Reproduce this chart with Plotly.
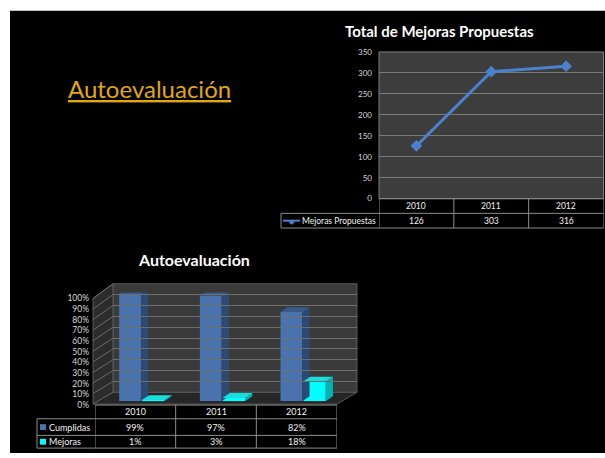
import plotly.graph_objects as go

W, H = 605, 458
FONT = "Lato"

# data
years = ["2010", "2011", "2012"]
mejoras_propuestas = [126, 303, 316]
cumplidas = [0.99, 0.97, 0.82]
mejoras = [0.01, 0.03, 0.18]
cumplidas_lbl = ["99%", "97%", "82%"]
mejoras_lbl = ["1%", "3%", "18%"]

BLUE_LINE = "#4a80cc"
BAR_BLUE = ["#4a72ac", "#2e4a74", "#3a5a8c"]   # front, side, top
BAR_CYAN = ["#00ffff", "#00b4b4", "#19dede"]
GRID = "#7a7a7a"
TABLE_LINE = "#8c8c8c"
TXT = "#f2f2f2"


def fx(p):
    return p / W


def fy(p):
    return 1 - p / H


xs = list(range(len(years)))
fig = go.Figure()

# ---- line chart
fig.add_trace(go.Scatter(
    x=xs, y=mejoras_propuestas, mode="lines+markers",
    line=dict(color=BLUE_LINE, width=3),
    marker=dict(symbol="diamond", size=9, color=BLUE_LINE),
    xaxis="x", yaxis="y", hoverinfo="skip", showlegend=False,
))

# ---- 3d-ish bar chart
DX, DY = 0.09, 0.045


def bar_series(vals, offset, width, colors):
    fig.add_trace(go.Bar(
        x=xs, y=vals, offset=offset, width=width,
        marker=dict(color=colors[0], line=dict(width=0)),
        xaxis="x2", yaxis="y2", hoverinfo="skip", showlegend=False,
    ))
    for i, v in zip(xs, vals):
        l, r = i + offset, i + offset + width
        fig.add_trace(go.Scatter(
            x=[r, r + DX, r + DX, r, r], y=[0, DY, v + DY, v, 0],
            fill="toself", fillcolor=colors[1], mode="lines",
            line=dict(width=0, color=colors[1]),
            xaxis="x2", yaxis="y2", hoverinfo="skip", showlegend=False,
        ))
        fig.add_trace(go.Scatter(
            x=[l, l + DX, r + DX, r, l], y=[v, v + DY, v + DY, v, v],
            fill="toself", fillcolor=colors[2], mode="lines",
            line=dict(width=0, color=colors[2]),
            xaxis="x2", yaxis="y2", hoverinfo="skip", showlegend=False,
        ))


bar_series(cumplidas, -0.2, 0.27, BAR_BLUE)
bar_series(mejoras, 0.08, 0.28, BAR_CYAN)

# placeholders so the wall / tick-label axes get drawn
fig.add_trace(go.Scatter(x=[0], y=[0], mode="markers", marker=dict(opacity=0),
                         xaxis="x3", yaxis="y3", hoverinfo="skip", showlegend=False))
fig.add_trace(go.Scatter(x=[0], y=[0], mode="markers", marker=dict(opacity=0),
                         xaxis="x2", yaxis="y4", hoverinfo="skip", showlegend=False))

shapes = []
annotations = []

# slide background
shapes.append(dict(type="rect", xref="paper", yref="paper", x0=fx(10), x1=1, y0=0, y1=fy(6),
                   fillcolor="black", line=dict(width=0), layer="below"))
# line chart plot area
shapes.append(dict(type="rect", xref="x domain", yref="y domain", x0=0, x1=1, y0=0, y1=1,
                   fillcolor="#3d3d3d", line=dict(color="#7f7f7f", width=1), layer="below"))
# back wall
shapes.append(dict(type="rect", xref="x3 domain", yref="y3 domain", x0=0, x1=1, y0=0, y1=1,
                   fillcolor="#3a3a3a", line=dict(color="#5a5a5a", width=1), layer="below"))


def ppath(pts):
    return "M " + " L ".join(f"{fx(a):.5f},{fy(b):.5f}" for a, b in pts) + " Z"


# left wall
shapes.append(dict(type="path", xref="paper", yref="paper",
                   path=ppath([(93, 408), (113, 396), (113, 285), (93, 300)]),
                   fillcolor="#2c2c2c", line=dict(color="#5a5a5a", width=1), layer="below"))
for k in range(11):
    t = k / 10
    shapes.append(dict(type="line", xref="paper", yref="paper",
                       x0=fx(93), y0=fy(408 - 108 * t), x1=fx(113), y1=fy(396 - 111 * t),
                       line=dict(color="#6a6a6a", width=1), layer="below"))
# floor
shapes.append(dict(type="path", xref="paper", yref="paper",
                   path=ppath([(93, 408), (337, 408), (357, 396), (113, 396)]),
                   fillcolor="#262626", line=dict(color="#5a5a5a", width=1), layer="below"))


def hline(x0, x1, y, xref="paper"):
    shapes.append(dict(type="line", xref=xref, yref="paper", x0=x0, x1=x1, y0=fy(y), y1=fy(y),
                       line=dict(color=TABLE_LINE, width=1)))


def vline(x, y0, y1, xref="paper"):
    shapes.append(dict(type="line", xref=xref, yref="paper", x0=x, x1=x, y0=fy(y0), y1=fy(y1),
                       line=dict(color=TABLE_LINE, width=1)))


def txt(x, y, s, xref="paper", size=9, color=TXT, xanchor="center", bold=False):
    annotations.append(dict(x=x, y=fy(y), xref=xref, yref="paper", text=f"<b>{s}</b>" if bold else s,
                            showarrow=False, xanchor=xanchor, yanchor="middle",
                            font=dict(family=FONT, size=size, color=color)))


# ---- line chart table
hline(-0.5, 2.5, 198, "x")
hline(fx(281), fx(603.5), 213)
hline(fx(281), fx(603.5), 228)
for b in [-0.5, 0.5, 1.5, 2.5]:
    vline(b, 198, 228, "x")
vline(fx(281), 213, 228)
for i, y in enumerate(years):
    txt(i, 205.5, y, "x", size=8.5)
for i, v in enumerate(mejoras_propuestas):
    txt(i, 220.5, str(v), "x", size=8.5)
shapes.append(dict(type="line", xref="paper", yref="paper", x0=fx(283), x1=fx(300),
                   y0=fy(220.5), y1=fy(220.5), line=dict(color=BLUE_LINE, width=2)))
txt(fx(291.5), 220.5, "◆", size=7, color=BLUE_LINE)
txt(fx(300), 220.5, "Mejoras Propuestas", size=8.5, xanchor="left")

# ---- bar chart table
hline(-0.5, 2.5, 409, "x2")
for y in [423, 440, 453]:
    hline(fx(37), fx(337), y)
for b in [-0.5, 0.5, 1.5, 2.5]:
    vline(b, 409, 453, "x2")
vline(fx(37), 423, 453)
for i, y in enumerate(years):
    txt(i, 416, y, "x2")
for i, v in enumerate(cumplidas_lbl):
    txt(i, 431.5, v, "x2")
for i, v in enumerate(mejoras_lbl):
    txt(i, 446.5, v, "x2")
for yy, col, name in [(431.5, BAR_BLUE[0], "Cumplidas"), (446.5, BAR_CYAN[0], "Mejoras")]:
    shapes.append(dict(type="rect", xref="paper", yref="paper", x0=fx(40), x1=fx(46),
                       y0=fy(yy + 3), y1=fy(yy - 3), fillcolor=col, line=dict(width=0)))
    txt(fx(47), yy, name, xanchor="left")

# ---- titles
txt(fx(439), 27, "Total de Mejoras Propuestas", size=15, bold=True, color="#ffffff")
txt(fx(194), 260, "Autoevaluación", size=16, bold=True, color="#ffffff")
txt(fx(149.5), 85, "<u>Autoevaluación</u>", size=24, color="#e0a812")

fig.update_layout(
    width=W, height=H,
    margin=dict(l=0, r=0, t=0, b=0),
    paper_bgcolor="white",
    plot_bgcolor="rgba(0,0,0,0)",
    font=dict(family=FONT, color=TXT),
    showlegend=False,
    shapes=shapes,
    annotations=annotations,
    xaxis=dict(domain=[fx(379), fx(603.5)], range=[-0.5, 2.5], visible=False, anchor="y"),
    yaxis=dict(domain=[fy(198), fy(48)], range=[0, 350], dtick=50, anchor="x",
               showgrid=True, gridcolor=GRID, gridwidth=1, zeroline=False, showline=False,
               ticks="", ticklabelstandoff=6,
               tickfont=dict(family=FONT, size=8, color="#d9d9d9")),
    xaxis2=dict(domain=[fx(95), fx(337)], range=[-0.5, 2.5], visible=False, anchor="y2"),
    yaxis2=dict(domain=[fy(405), fy(294)], range=[0, 1], visible=False, anchor="x2"),
    xaxis3=dict(domain=[fx(113), fx(357)], range=[0, 1], visible=False, anchor="y3"),
    yaxis3=dict(domain=[fy(396), fy(285)], range=[0, 1], dtick=0.1, anchor="x3",
                showgrid=True, gridcolor="#6e6e6e", gridwidth=1, zeroline=False,
                showticklabels=False, ticks=""),
    yaxis4=dict(domain=[fy(409), fy(300)], range=[0, 1], dtick=0.1, tickformat=".0%",
                anchor="free", position=fx(93), side="left", showgrid=False, zeroline=False,
                showline=False, ticks="", ticklabelstandoff=4,
                tickfont=dict(family=FONT, size=8.5, color="#d9d9d9")),
)

# page has a default body margin; drop it so the figure sits at the window origin
fig.write_html("out.html", config={"displayModeBar": False},
               post_script="document.body.style.margin='0';")
